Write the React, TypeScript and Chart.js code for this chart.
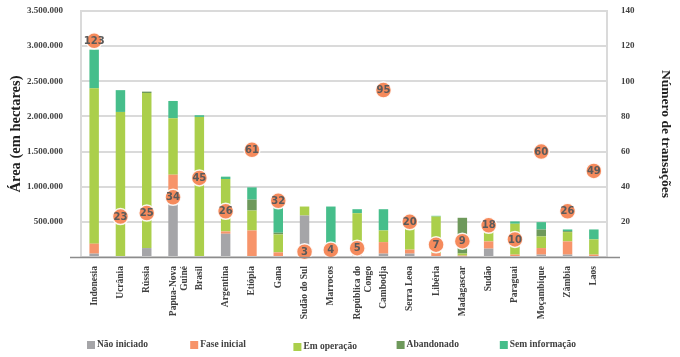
import React, { useEffect, useRef } from "react";
import { Chart, registerables } from "chart.js";

Chart.register(...registerables);

const categories: (string | string[])[] = [
  "Indonesia", "Ucrânia", "Rússia", ["Papua-Nova", "Guiné"], "Brasil", "Argentina",
  "Etiópia", "Gana", "Sudão do Sul", "Marrocos", ["República do", "Congo"], "Cambodja",
  "Serra Leoa", "Libéria", "Madagascar", "Sudão", "Paraguai", "Moçambique", "Zâmbia", "Laos",
];

const naoIniciado = [48000, 0, 127000, 765000, 0, 331000, 0, 0, 590000, 0, 0, 48000, 48000, 0, 10000, 119000, 0, 34000, 34000, 0];
const faseInicial = [142000, 0, 0, 406000, 0, 33000, 378000, 66000, 0, 8000, 48000, 164000, 57000, 57000, 10000, 103000, 34000, 93000, 188000, 34000];
const emOperacao = [2210000, 2064000, 2206000, 803000, 1993000, 746000, 283000, 255000, 128000, 0, 575000, 166000, 344000, 519000, 30000, 160000, 439000, 166000, 132000, 217000];
const abandonado = [0, 0, 20000, 0, 0, 0, 156000, 24000, 0, 0, 0, 0, 0, 0, 508000, 0, 0, 99000, 14000, 0];
const semInformacao = [550000, 310000, 0, 246000, 24000, 33000, 174000, 377000, 0, 710000, 57000, 302000, 0, 10000, 0, 0, 33000, 104000, 24000, 141000];
const transacoes = [123, 23, 25, 34, 45, 26, 61, 32, 3, 4, 5, 95, 20, 7, 9, 18, 10, 60, 26, 49];

const leftTickLabels = ["", "500.000", "1.000.000", "1.500.000", "2.000.000", "2.500.000", "3.000.000", "3.500.000"];
const rightTickLabels = ["", "20", "40", "60", "80", "100", "120", "140"];

const seriesNames = ["Não iniciado", "Fase inicial", "Em operação", "Abandonado", "Sem informação"];
const seriesColors = ["#A5A5A8", "#F7946A", "#ABCF4B", "#6E995B", "#46BE8B"];

const SERIF = "'Liberation Serif', 'Times New Roman', serif";

const pointLabelPlugin = {
  id: "pointLabels",
  afterDatasetsDraw(chart: any) {
    const ctx = chart.ctx;
    const meta = chart.getDatasetMeta(5);
    ctx.save();
    ctx.font = "bold 10px 'DejaVu Sans', sans-serif";
    ctx.fillStyle = "#5A5A5A";
    ctx.textAlign = "center";
    ctx.textBaseline = "middle";
    meta.data.forEach((el: any, i: number) => {
      ctx.fillText(String(transacoes[i]), el.x, el.y + 0.5);
    });
    ctx.restore();
  },
};

const legendPlugin = {
  id: "customLegend",
  afterDraw(chart: any) {
    const ctx = chart.ctx;
    const area = chart.chartArea;
    const step = (area.right - area.left) / 5 - 2;
    const y = 345;
    ctx.save();
    ctx.font = "bold 9.5px " + SERIF;
    ctx.textBaseline = "middle";
    ctx.textAlign = "left";
    seriesNames.forEach((name, i) => {
      const x = area.left + 6 + i * step;
      const dy = i === 2 ? 2 : 0;
      ctx.fillStyle = seriesColors[i];
      ctx.fillRect(x, y - 4 + dy, 8, 8);
      ctx.fillStyle = "#404040";
      ctx.fillText(name, x + 10, y + dy);
    });
    ctx.restore();
  },
};

const xAxisLinePlugin = {
  id: "xAxisLine",
  afterDatasetsDraw(chart: any) {
    const ctx = chart.ctx;
    const area = chart.chartArea;
    ctx.save();
    ctx.strokeStyle = "#8C8C8C";
    ctx.lineWidth = 1.5;
    ctx.beginPath();
    ctx.moveTo(area.left - 11, area.bottom + 0.5);
    ctx.lineTo(area.right + 13, area.bottom + 0.5);
    ctx.stroke();
    ctx.restore();
  },
};

export default function App() {
  const canvasRef = useRef<HTMLCanvasElement | null>(null);

  useEffect(() => {
    if (!canvasRef.current) return;
    const barDatasets = [naoIniciado, faseInicial, emOperacao, abandonado, semInformacao].map((d, i) => ({
      type: "bar" as const,
      label: seriesNames[i],
      data: d,
      backgroundColor: seriesColors[i],
      yAxisID: "y",
      stack: "s",
      barPercentage: 0.36,
      categoryPercentage: 1,
      order: 2,
    }));
    const chart = new Chart(canvasRef.current, {
      type: "bar",
      data: {
        labels: categories,
        datasets: [
          ...barDatasets,
          {
            type: "line" as const,
            label: "Número de transações",
            data: transacoes,
            yAxisID: "y1",
            showLine: false,
            clip: false,
            pointRadius: 8,
            pointHoverRadius: 8,
            pointBackgroundColor: "#F58A5C",
            pointBorderColor: "rgba(255,255,255,0.9)",
            pointBorderWidth: 1.5,
            order: 1,
          } as any,
        ],
      },
      options: {
        animation: false,
        responsive: false,
        maintainAspectRatio: false,
        layout: { autoPadding: false, padding: { top: 11, left: 0, right: 0, bottom: 0 } },
        plugins: {
          legend: { display: false },
          tooltip: { enabled: false },
        },
        scales: {
          x: {
            stacked: true,
            grid: { display: false, drawTicks: false },
            border: { display: false },
            ticks: {
              autoSkip: false,
              maxRotation: 90,
              minRotation: 90,
              padding: 9,
              color: "#404040",
              font: { family: SERIF, size: 9.5, weight: "bold" },
            },
            afterFit(scale: any) {
              scale.height = 100;
            },
          },
          y: {
            stacked: true,
            position: "left",
            min: 0,
            max: 3500000,
            grid: { color: "#DADADA", lineWidth: 2, drawTicks: false },
            border: { display: true, color: "#DADADA", width: 2 },
            ticks: {
              stepSize: 500000,
              padding: 18,
              color: "#404040",
              font: { family: SERIF, size: 9, weight: "bold" },
              callback: (_v: any, i: number) => leftTickLabels[i],
            },
            title: {
              display: true,
              text: "Área (em hectares)",
              color: "#202020",
              font: { family: SERIF, size: 14.5, weight: "bold" },
              padding: { top: 8, bottom: 0 },
            },
            afterFit(scale: any) {
              scale.width = 81;
              scale.paddingTop = 0;
              scale.paddingBottom = 0;
            },
          },
          y1: {
            position: "right",
            min: 0,
            max: 140,
            grid: { display: false, drawTicks: false },
            border: { display: true, color: "#DADADA", width: 2 },
            ticks: {
              stepSize: 20,
              padding: 14,
              color: "#404040",
              font: { family: SERIF, size: 9, weight: "bold" },
              callback: (_v: any, i: number) => rightTickLabels[i],
            },
            title: {
              display: true,
              text: "Número de transações",
              color: "#202020",
              font: { family: SERIF, size: 13.5, weight: "bold" },
              padding: { top: 6, bottom: 0 },
            },
            afterFit(scale: any) {
              scale.width = 73;
              scale.paddingTop = 0;
              scale.paddingBottom = 0;
            },
          },
        },
      },
      plugins: [xAxisLinePlugin, pointLabelPlugin, legendPlugin],
    });
    return () => chart.destroy();
  }, []);

  return (
    <div style={{ position: "fixed", left: 0, top: 0, width: 680, height: 357, background: "#fff" }}>
      <canvas ref={canvasRef} width={680} height={357} style={{ width: 680, height: 357 }} />
    </div>
  );
}
